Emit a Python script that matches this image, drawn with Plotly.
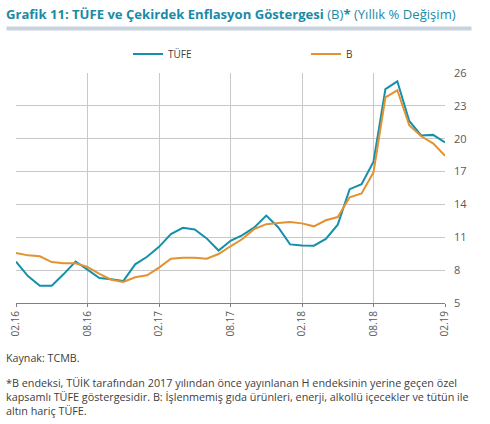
import plotly.graph_objects as go

months = ["02.16", "03.16", "04.16", "05.16", "06.16", "07.16", "08.16", "09.16", "10.16", "11.16", "12.16",
          "01.17", "02.17", "03.17", "04.17", "05.17", "06.17", "07.17", "08.17", "09.17", "10.17", "11.17", "12.17",
          "01.18", "02.18", "03.18", "04.18", "05.18", "06.18", "07.18", "08.18", "09.18", "10.18", "11.18", "12.18",
          "01.19", "02.19"]
tufe = [8.78, 7.46, 6.57, 6.58, 7.64, 8.79, 8.05, 7.28, 7.16, 7.00, 8.53,
        9.22, 10.13, 11.29, 11.87, 11.72, 10.90, 9.79, 10.68, 11.20, 11.90, 12.98, 11.92,
        10.35, 10.26, 10.23, 10.85, 12.15, 15.39, 15.85, 17.90, 24.52, 25.24, 21.62, 20.30,
        20.35, 19.67]
b_index = [9.57, 9.35, 9.26, 8.74, 8.62, 8.62, 8.29, 7.65, 7.13, 6.92, 7.35,
           7.53, 8.23, 9.05, 9.14, 9.14, 9.05, 9.47, 10.18, 10.84, 11.76, 12.20, 12.30,
           12.40, 12.27, 12.00, 12.55, 12.85, 14.65, 15.00, 16.93, 23.78, 24.42, 21.23, 20.22,
           19.58, 18.45]
tick_labels = ["02.16", "08.16", "02.17", "08.17", "02.18", "08.18", "02.19"]
y_ticks = [5, 8, 11, 14, 17, 20, 23, 26]

fig = go.Figure()
fig.add_trace(go.Scatter(x=months, y=tufe, mode="lines", name="TÜFE",
                         line=dict(color="#1590ab", width=2)))
fig.add_trace(go.Scatter(x=months, y=b_index, mode="lines", name="B",
                         line=dict(color="#e4922f", width=2)))

fig.update_layout(
    width=490, height=424,
    margin=dict(l=16, r=45, t=73, b=121, autoexpand=False),
    paper_bgcolor="white", plot_bgcolor="white",
    font=dict(family="Open Sans", color="#404040"),
    showlegend=True,
    legend=dict(orientation="h", x=0.261, y=1.02, yanchor="bottom", xanchor="left",
                font=dict(size=10, color="#404040"), entrywidth=133, itemwidth=30,
                bgcolor="rgba(0,0,0,0)"),
    xaxis=dict(type="category", range=[0, 36], tickvals=tick_labels, ticktext=tick_labels,
               tickangle=-90, showgrid=True, gridcolor="#c8c8c8", gridwidth=1,
               showline=True, linecolor="#808080", linewidth=1,
               ticks="outside", ticklen=3, tickcolor="#808080",
               tickfont=dict(size=10, color="#595959")),
    yaxis=dict(range=[5, 26], tickvals=y_ticks, side="right", showgrid=True,
               gridcolor="#c8c8c8", gridwidth=1, zeroline=False,
               tickfont=dict(size=11, color="#595959"), ticks="", ticklabelstandoff=8),
)

fig.add_annotation(
    text="<b>Grafik 11: TÜFE ve Çekirdek Enflasyon Göstergesi</b> (B)<b>*</b> (Yıllık % Değişim)",
    xref="paper", yref="paper", x=0, y=1, xshift=-12, yshift=59, xanchor="left", yanchor="middle",
    showarrow=False, font=dict(size=13.1, color="#1a8aa6", family="Open Sans"))

# grey bar under the title, drawn as an empty annotation box
fig.add_annotation(text=" ", xref="paper", yref="paper", x=0, y=1, xshift=-10, yshift=45,
                   xanchor="left", yanchor="middle", showarrow=False,
                   width=464, height=3, borderpad=0, bgcolor="#c8d3df",
                   font=dict(size=1))

fig.add_annotation(text="Kaynak: TCMB.", xref="paper", yref="paper", x=0, y=0, xshift=-12, yshift=-55,
                   xanchor="left", yanchor="middle", align="left", showarrow=False,
                   font=dict(size=10.7, color="#404040", family="Open Sans"))

footnote = ("*B endeksi, TÜİK tarafından 2017 yılından önce yayınlanan H endeksinin yerine geçen özel<br>"
            "kapsamlı TÜFE göstergesidir. B: İşlenmemiş gıda ürünleri, enerji, alkollü içecekler ve tütün ile<br>"
            "altın hariç TÜFE.")
fig.add_annotation(text=footnote, xref="paper", yref="paper", x=0, y=0, xshift=-12, yshift=-70,
                   xanchor="left", yanchor="top", align="left", showarrow=False,
                   font=dict(size=10.8, color="#404040", family="Open Sans"))

fig.write_html("out.html", config={"displayModeBar": False},
               post_script="document.body.style.margin='0';")
